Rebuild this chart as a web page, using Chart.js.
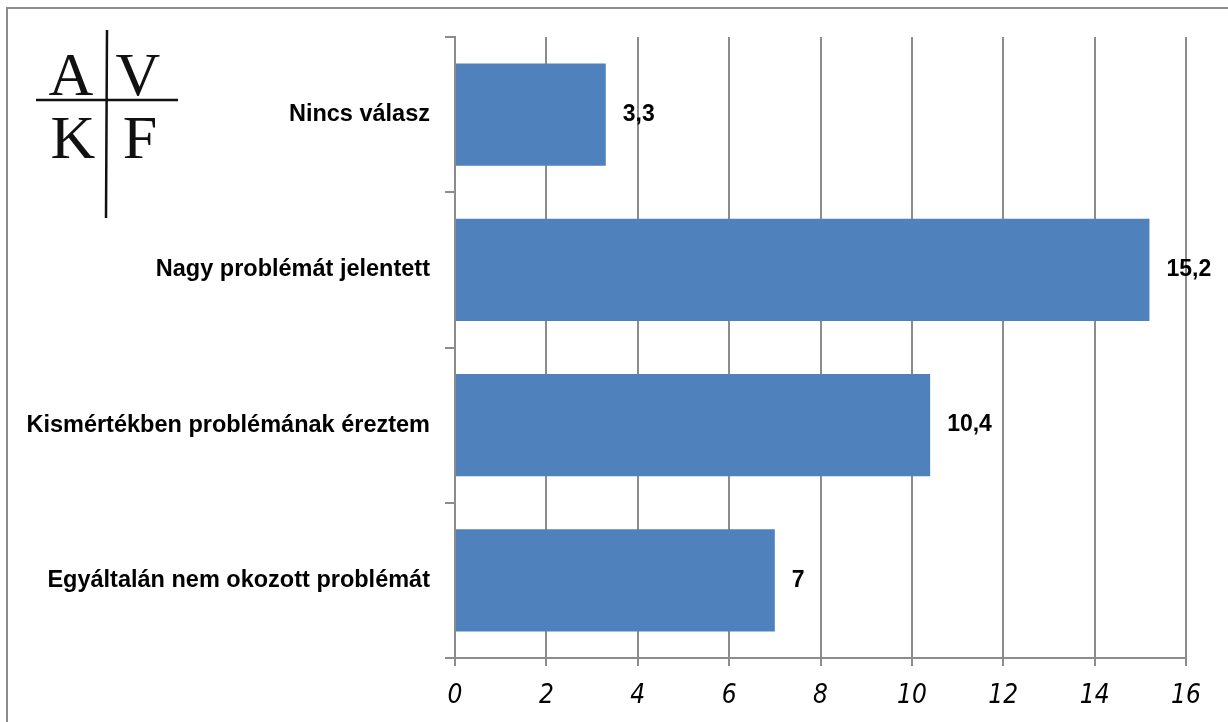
<!DOCTYPE html>
<html>
<head>
<meta charset="utf-8">
<script src="https://cdn.jsdelivr.net/npm/chart.js@4"></script>
<style>
  html, body { margin: 0; padding: 0; background: #fff; }
  canvas { display: block; }
</style>
</head>
<body>
<canvas id="chart" width="1228" height="722"></canvas>
<script>
// Data
const categories = ['Nincs válasz', 'Nagy problémát jelentett', 'Kismértékben problémának éreztem', 'Egyáltalán nem okozott problémát'];
const values = [3.3, 15.2, 10.4, 7];
const xTicks = [0, 2, 4, 6, 8, 10, 12, 14, 16];

const gray = '#8c8c8c';
const barColor = '#4f81bd';

// Frame + logo drawn behind the chart
const frameAndLogo = {
  id: 'frameAndLogo',
  beforeDraw(chart) {
    const ctx = chart.ctx;
    ctx.save();
    ctx.fillStyle = '#fff';
    ctx.fillRect(0, 0, chart.width, chart.height);
    // outer frame (only left and top edges show)
    ctx.strokeStyle = gray;
    ctx.lineWidth = 2;
    ctx.beginPath();
    ctx.moveTo(7, chart.height);
    ctx.lineTo(7, 8);
    ctx.lineTo(chart.width, 8);
    ctx.stroke();

    // AVKF logo
    ctx.fillStyle = '#111';
    ctx.font = '62px "Liberation Serif", "DejaVu Serif", serif';
    ctx.textAlign = 'center';
    ctx.textBaseline = 'alphabetic';
    ctx.fillText('A', 71, 95);
    ctx.fillText('V', 138, 95);
    ctx.fillText('K', 73, 158);
    ctx.fillText('F', 140, 158);
    ctx.strokeStyle = '#111';
    ctx.lineWidth = 2.5;
    ctx.beginPath();
    ctx.moveTo(36, 100);
    ctx.lineTo(178, 100);
    ctx.moveTo(107, 30);
    ctx.lineTo(106, 218);
    ctx.stroke();
    ctx.restore();
  }
};

// Value labels to the right of each bar
const valueLabels = {
  id: 'valueLabels',
  afterDatasetsDraw(chart) {
    const ctx = chart.ctx;
    const meta = chart.getDatasetMeta(0);
    ctx.save();
    ctx.fillStyle = '#000';
    ctx.font = 'bold 23px "Liberation Sans", Arial, sans-serif';
    ctx.textAlign = 'left';
    ctx.textBaseline = 'middle';
    meta.data.forEach((bar, i) => {
      const txt = String(values[i]).replace('.', ',');
      ctx.fillText(txt, bar.x + 17, bar.y);
    });
    ctx.restore();
  }
};

new Chart(document.getElementById('chart'), {
  type: 'bar',
  data: {
    labels: categories,
    datasets: [{
      data: values,
      backgroundColor: barColor,
      borderWidth: 0,
      barPercentage: 0.66,
      categoryPercentage: 1,
    }],
  },
  options: {
    indexAxis: 'y',
    responsive: false,
    animation: false,
    layout: { padding: { top: 37, right: 42, left: 0, bottom: 0 } },
    plugins: {
      legend: { display: false },
      tooltip: { enabled: false },
    },
    scales: {
      x: {
        min: 0,
        max: 16,
        afterBuildTicks: (scale) => { scale.ticks = xTicks.map(v => ({ value: v })); },
        afterFit: (scale) => { scale.height = 64; },
        grid: { color: gray, lineWidth: 2, tickLength: 8, drawTicks: true },
        border: { color: gray, width: 2 },
        ticks: {
          color: '#000',
          padding: 15,
          font: { family: '"DejaVu Sans Condensed", "Liberation Sans Narrow", sans-serif', size: 26, style: 'italic' },
        },
      },
      y: {
        afterFit: (scale) => { scale.width = 455; },
        grid: { color: gray, lineWidth: 2, drawOnChartArea: false, tickLength: 10, offset: true },
        border: { color: gray, width: 2 },
        ticks: {
          color: '#000',
          padding: 15,
          font: { family: '"Liberation Sans", Arial, sans-serif', size: 23.5, weight: 'bold' },
        },
      },
    },
  },
  plugins: [frameAndLogo, valueLabels],
});
</script>
</body>
</html>
